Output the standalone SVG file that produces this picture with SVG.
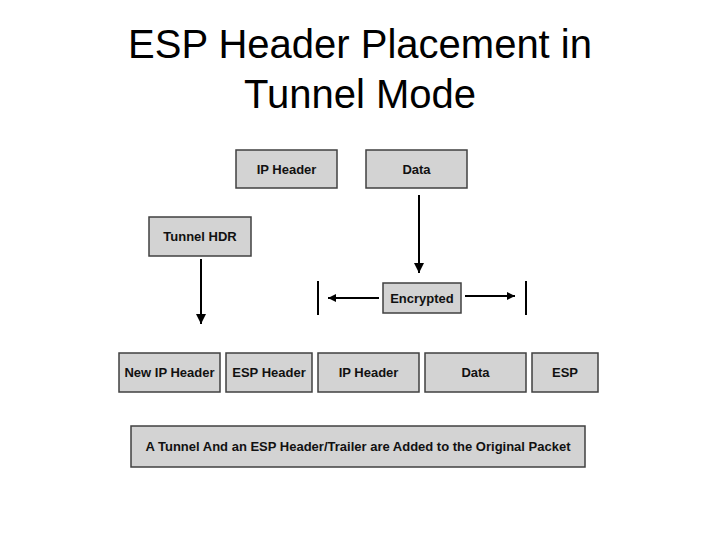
<svg xmlns="http://www.w3.org/2000/svg" width="720" height="540" viewBox="0 0 720 540">
<style>
.b{fill:#d3d3d3;stroke:#404040;stroke-width:1.5}
.t{font-family:"Liberation Sans",Arial,sans-serif;font-size:13px;font-weight:bold;fill:#111;text-anchor:middle}
.h{font-family:"Liberation Sans",Arial,sans-serif;font-size:40px;fill:#000;text-anchor:middle}
.c{stroke:#000;stroke-width:2;fill:none}
</style>
<defs><marker id="a" viewBox="0 0 10 10" refX="10" refY="5" markerWidth="5" markerHeight="5" orient="auto" markerUnits="strokeWidth"><path d="M0,0L10,5L0,10z" fill="#000"/></marker>
<marker id="s" viewBox="0 0 10 10" refX="10" refY="5" markerWidth="6" markerHeight="4" orient="auto" markerUnits="strokeWidth"><path d="M0,0L10,5L0,10z" fill="#000"/></marker></defs>
<rect width="720" height="540" fill="#fff"/>
<text class="h" x="360" y="58">ESP Header Placement in</text>
<text class="h" x="360" y="108">Tunnel Mode</text>
<g id="ip1"><rect class="b" x="236" y="150" width="101" height="38"/><text class="t" x="286.5" y="174">IP Header</text></g>
<g id="data1"><rect class="b" x="366" y="150" width="101" height="38"/><text class="t" x="416.5" y="174">Data</text></g>
<g id="tunnel"><rect class="b" x="149" y="217" width="102" height="39"/><text class="t" x="200" y="241">Tunnel HDR</text></g>
<g id="enc"><rect class="b" x="383" y="283" width="78" height="30"/><text class="t" x="422" y="303">Encrypted</text></g>
<g id="newip"><rect class="b" x="119" y="353" width="101" height="39"/><text class="t" x="169.5" y="377">New IP Header</text></g>
<g id="esph"><rect class="b" x="226" y="353" width="86" height="39"/><text class="t" x="269" y="377">ESP Header</text></g>
<g id="ip2"><rect class="b" x="318" y="353" width="101" height="39"/><text class="t" x="368.5" y="377">IP Header</text></g>
<g id="data2"><rect class="b" x="425" y="353" width="101" height="39"/><text class="t" x="475.5" y="377">Data</text></g>
<g id="esp"><rect class="b" x="532" y="353" width="66" height="39"/><text class="t" x="565" y="377">ESP</text></g>
<g id="caption"><rect class="b" x="131" y="426" width="454" height="41"/><text class="t" x="358" y="451">A Tunnel And an ESP Header/Trailer are Added to the Original Packet</text></g>
<g id="connectors">
<line class="c" x1="201" y1="259" x2="201" y2="324" marker-end="url(#a)"/>
<line class="c" x1="419" y1="195" x2="419" y2="273" marker-end="url(#a)"/>
<line class="c" x1="379" y1="298" x2="328" y2="298" marker-end="url(#s)"/>
<line class="c" x1="465" y1="296" x2="515" y2="296" marker-end="url(#s)"/>
<line class="c" x1="318" y1="281" x2="318" y2="315"/>
<line class="c" x1="526" y1="281" x2="526" y2="315"/>
</g>
</svg>
